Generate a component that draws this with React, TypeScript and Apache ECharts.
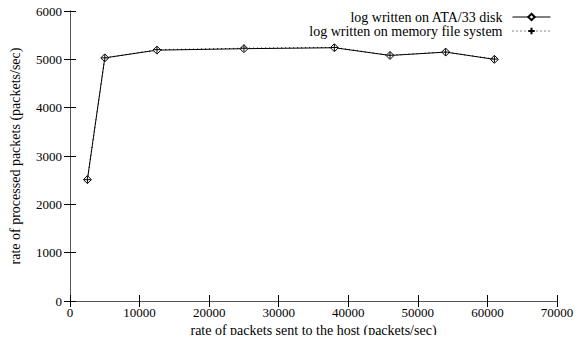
import React, { useEffect, useRef } from "react";
import * as echarts from "echarts";

const xValues = [2500, 5000, 12500, 25000, 38000, 46000, 54000, 61000];
const ataDisk = [2510, 5030, 5190, 5220, 5240, 5080, 5150, 5000];
const memoryFs = [2510, 5030, 5200, 5230, 5245, 5085, 5150, 5005];

const FONT = "'Liberation Serif', 'Times New Roman', serif";

export default function App() {
  const ref = useRef<HTMLDivElement>(null);
  useEffect(() => {
    if (!ref.current) return;
    const chart = echarts.init(ref.current, undefined, { renderer: "svg" });
    const plus = "path://M0,5L10,5M5,0L5,10";
    const axisColor = "#555";
    const label = { fontFamily: FONT, fontSize: 13, color: "#000" };
    const nameStyle = { fontFamily: FONT, fontSize: 14, color: "#000" };
    chart.setOption({
      animation: false,
      backgroundColor: "#fff",
      textStyle: { fontFamily: FONT, color: "#000" },
      grid: { left: 70, right: 26, top: 11, bottom: 42 },
      legend: {
        orient: "vertical",
        right: 32,
        top: 10,
        align: "right",
        itemWidth: 38,
        itemHeight: 8,
        itemGap: 0,
        padding: 0,
        textStyle: { ...nameStyle, lineHeight: 13, padding: [0, 5, 0, 0] },
        data: [
          { name: "log written on ATA/33 disk", lineStyle: { width: 1 } },
          { name: "log written on memory file system", lineStyle: { width: 1 } },
        ],
      },
      xAxis: [
        {
          type: "value",
          min: 0,
          max: 70000,
          interval: 10000,
          name: "rate of packets sent to the host (packets/sec)",
          nameLocation: "middle",
          nameGap: 14,
          nameTextStyle: nameStyle,
          axisLine: { show: true, lineStyle: { color: axisColor, width: 1 } },
          axisTick: { show: true, inside: true, length: 6, lineStyle: { color: "#000" } },
          axisLabel: { ...label, margin: 5, formatter: (v: number) => String(v) },
          splitLine: { show: false },
        },
        {
          type: "value",
          position: "top",
          min: 0,
          max: 70000,
          interval: 10000,
          axisLine: { show: true, lineStyle: { color: axisColor, width: 1 } },
          axisTick: { show: true, inside: true, length: 6, lineStyle: { color: "#000" } },
          axisLabel: { show: false },
          splitLine: { show: false },
        },
      ],
      yAxis: [
        {
          type: "value",
          min: 0,
          max: 6000,
          interval: 1000,
          name: "rate of processed packets (packets/sec)",
          nameLocation: "middle",
          nameGap: 48,
          nameTextStyle: nameStyle,
          axisLine: { show: true, lineStyle: { color: axisColor, width: 1 } },
          axisTick: { show: true, inside: true, length: 6, lineStyle: { color: "#000" } },
          axisLabel: { ...label, margin: 8, formatter: (v: number) => String(v) },
          splitLine: { show: false },
        },
        {
          type: "value",
          position: "right",
          min: 0,
          max: 6000,
          interval: 1000,
          axisLine: { show: true, lineStyle: { color: axisColor, width: 1 } },
          axisTick: { show: true, inside: true, length: 6, lineStyle: { color: "#000" } },
          axisLabel: { show: false },
          splitLine: { show: false },
        },
      ],
      series: [
        {
          name: "log written on ATA/33 disk",
          type: "line",
          data: xValues.map((x, i) => [x, ataDisk[i]]),
          symbol: "diamond",
          symbolSize: 8,
          showAllSymbol: true,
          itemStyle: { color: "#fff", borderColor: "#000", borderWidth: 1 },
          lineStyle: { color: "#000", width: 1 },
          z: 2,
        },
        {
          name: "log written on memory file system",
          type: "line",
          data: xValues.map((x, i) => [x, memoryFs[i]]),
          symbol: plus,
          symbolSize: 7,
          showAllSymbol: true,
          itemStyle: { color: "none", borderColor: "#000", borderWidth: 1 },
          lineStyle: { color: "#000", width: 1, type: [1, 3] },
          z: 3,
        },
      ],
    });
    return () => chart.dispose();
  }, []);
  return <div ref={ref} style={{ width: 583, height: 343, margin: -8 }} />;
}
